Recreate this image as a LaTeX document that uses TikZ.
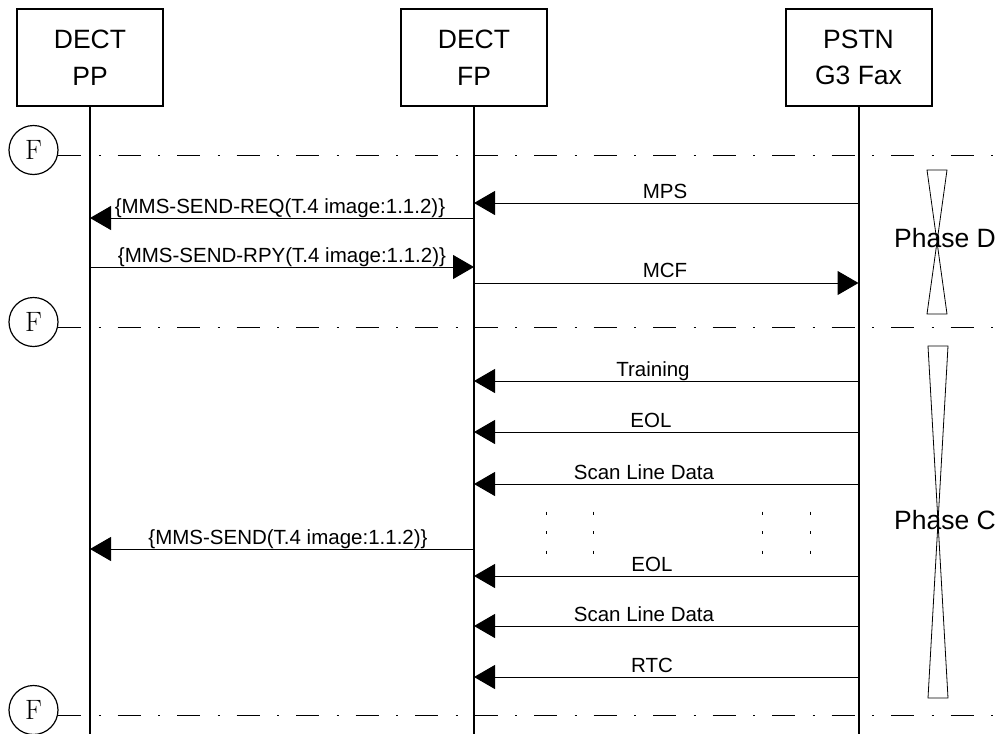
\documentclass[tikz,border=0pt]{standalone}
\usepackage{fontspec}
\newfontfamily\arial{Liberation Sans}
\usetikzlibrary{arrows.meta}
\tikzset{
  entity/.style={draw, line width=2pt, minimum width=146pt, minimum height=97pt, align=center, inner sep=0pt, font=\arial\fontsize{26.5}{36.5}\selectfont},
  life/.style={line width=2pt},
  msg/.style={line width=1pt, -{Triangle[length=21pt,width=24pt]}},
  lbl/.style={anchor=base, inner sep=0pt, font=\arial\fontsize{20.5}{24}\selectfont},
  fcirc/.style={draw, circle, line width=1.2pt, minimum size=49pt, inner sep=0pt, font=\fontsize{28}{30}\selectfont},
  phaseline/.style={line width=0.8pt, dash pattern=on 23pt off 17.5pt on 2pt off 17pt},
  phaselbl/.style={inner sep=0pt, font=\arial\fontsize{26.5}{30}\selectfont},
  glass/.style={line width=0.8pt},
  dots/.style={line width=1pt, dash pattern=on 3pt off 16.5pt}
}
\begin{document}
\begin{tikzpicture}[x=1pt,y=-1pt]
\useasboundingbox (0,0) rectangle (1002,734);
% entities
\node[entity] (PP) at (90,57.5) {DECT\\PP};
\node[entity] (FP) at (474,57.5) {DECT\\FP};
\node[entity] (PS) at (858.5,57.5) {PSTN\\G3 Fax};
\coordinate (PPe) at (90,734);
\coordinate (FPe) at (474,734);
\coordinate (PSe) at (858.5,734);
\draw[life] (PP.south) -- (PPe);
\draw[life] (FP.south) -- (FPe);
\draw[life] (PS.south) -- (PSe);
% F markers and phase lines
\node[fcirc] (F1) at (33.5,150) {F};
\node[fcirc] (F2) at (33.5,322) {F};
\node[fcirc] (F3) at (33.5,710) {F};
\coordinate (L1a) at (58,155); \coordinate (L1b) at (1002,155);
\coordinate (L2a) at (58,327); \coordinate (L2b) at (1002,327);
\coordinate (L3a) at (58,715); \coordinate (L3b) at (1002,715);
\draw[phaseline] (L1a) -- (L1b);
\draw[phaseline] (L2a) -- (L2b);
\draw[phaseline] (L3a) -- (L3b);
% messages
\draw[msg] (PS.south |- 0,203) -- (FP.south |- 0,203);
\node[lbl] (mps) at (665,198) {MPS};
\draw[msg] (FP.south |- 0,218) -- (PP.south |- 0,218);
\node[lbl] (req) at (280,213) {\{MMS-SEND-REQ(T.4 image:1.1.2)\}};
\draw[msg] (PP.south |- 0,267) -- (FP.south |- 0,267);
\node[lbl] (rpy) at (282,262) {\{MMS-SEND-RPY(T.4 image:1.1.2)\}};
\draw[msg] (FP.south |- 0,283) -- (PS.south |- 0,283);
\node[lbl] (mcf) at (665,277) {MCF};
\draw[msg] (PS.south |- 0,381) -- (FP.south |- 0,381);
\node[lbl] (tr) at (653,376) {Training};
\draw[msg] (PS.south |- 0,432) -- (FP.south |- 0,432);
\node[lbl] (eol1) at (651,427) {EOL};
\draw[msg] (PS.south |- 0,484) -- (FP.south |- 0,484);
\node[lbl] (sld1) at (644,479) {Scan Line Data};
\draw[msg] (FP.south |- 0,549) -- (PP.south |- 0,549);
\node[lbl] (send) at (288,544) {\{MMS-SEND(T.4 image:1.1.2)\}};
\draw[msg] (PS.south |- 0,576) -- (FP.south |- 0,576);
\node[lbl] (eol2) at (652,571) {EOL};
\draw[msg] (PS.south |- 0,626) -- (FP.south |- 0,626);
\node[lbl] (sld2) at (644,621) {Scan Line Data};
\draw[msg] (PS.south |- 0,677) -- (FP.south |- 0,677);
\node[lbl] (rtc) at (652,672) {RTC};
% continuation dots
\foreach \x in {546,593,762,810} {
  \draw[dots] (\x,511.5) -- (\x,556);
}
% phase D hourglass
\draw[glass] (927,170) -- (947,170) -- (927,314) -- (947,314) -- cycle;
\node[phaselbl] (pd) at (945,238) {Phase D};
% phase C hourglass
\draw[glass] (928,346) -- (948,346) -- (928,698) -- (948,698) -- cycle;
\node[phaselbl] (pc) at (945,520) {Phase C};
\end{tikzpicture}
\end{document}
